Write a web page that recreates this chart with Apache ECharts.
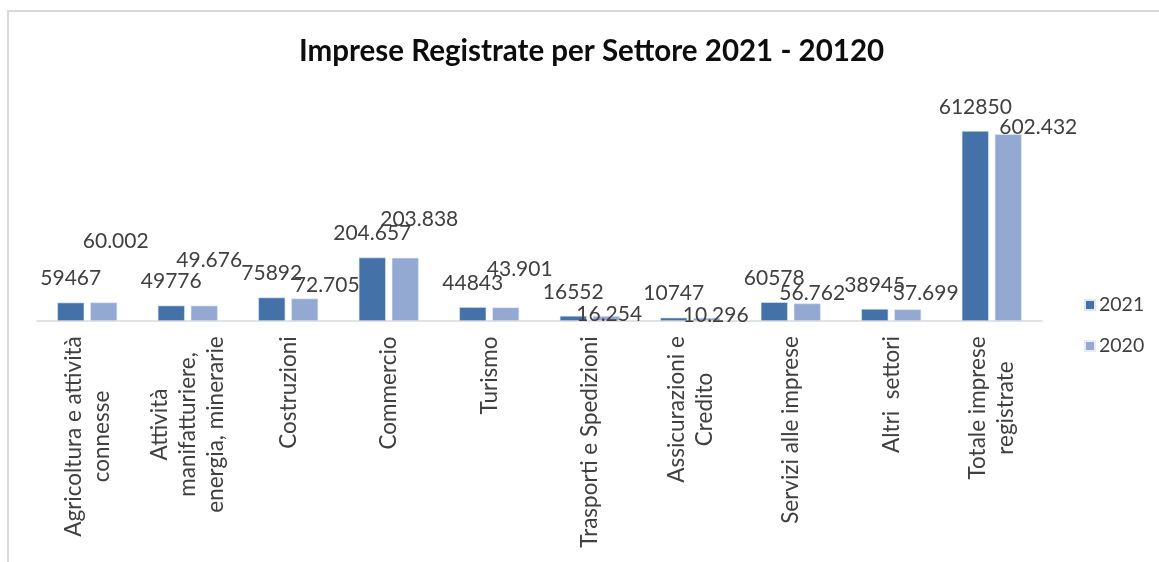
<!DOCTYPE html>
<html>
<head>
<meta charset="utf-8">
<script src="https://cdn.jsdelivr.net/npm/echarts@6/dist/echarts.min.js"></script>
<style>
html,body{margin:0;padding:0;background:#fff;}
#chart{width:1159px;height:562px;}
</style>
</head>
<body>
<div id="chart"></div>
<script>
// ---- data ----
const titleText = 'Imprese Registrate per Settore 2021 - 20120';
const categories = [
  'Agricoltura e attività\nconnesse',
  'Attività\nmanifatturiere,\nenergia, minerarie',
  'Costruzioni',
  'Commercio',
  'Turismo',
  'Trasporti e Spedizioni',
  'Assicurazioni e\nCredito',
  'Servizi alle imprese',
  'Altri  settori',
  'Totale imprese\nregistrate'
];
const seriesNames = ['2021', '2020'];
const values2021 = [59467, 49776, 75892, 204657, 44843, 16552, 10747, 60578, 38945, 612850];
const values2020 = [60002, 49676, 72705, 203838, 43901, 16254, 10296, 56762, 37699, 602432];
// 2021 labels written with thousands separator in the original
const dotted2021 = ['Commercio'];

// ---- styling ----
const FONT = 'Lato';
const TEXT = '#404040';
const C2021 = '#4472a8';
const C2020 = '#94a9d2';
// manual label nudges for the 2020 labels (as placed in the original)
const nudge2020 = [[12,-37],[5,-21],[22,11],[14,-15],[14,-14],[3,22],[9,21],[5,14],[18,8],[30,17]];

function dotFmt(v){ return String(v).replace(/\B(?=(\d{3})+(?!\d))/g, '.'); }

const AX_FS = 22.5;
const ctx = document.createElement('canvas').getContext('2d');
ctx.font = AX_FS + 'px ' + FONT;
const rich = {};
categories.forEach((c, i) => {
  const w = Math.ceil(Math.max(...c.split('\n').map(l => ctx.measureText(l).width)));
  rich['c' + i] = {width: w, align: 'center', fontSize: AX_FS, fontFamily: FONT, color: TEXT, lineHeight: 28};
});

const chart = echarts.init(document.getElementById('chart'), null, {renderer: 'canvas'});
chart.setOption({
  animation: false,
  backgroundColor: '#fff',
  title: {
    text: titleText,
    left: 294, top: 31,
    textStyle: {fontFamily: FONT, fontWeight: 'bold', fontSize: 29.5, color: '#0d0d0d'}
  },
  graphic: [{
    type: 'rect', silent: true,
    shape: {x: 8, y: 11, width: 1200, height: 600},
    style: {fill: 'none', stroke: '#d9d9d9', lineWidth: 2}
  }],
  legend: {
    orient: 'vertical', left: 1079, top: 290,
    itemWidth: 10, itemHeight: 10, icon: 'rect', itemGap: 21,
    textStyle: {fontFamily: FONT, fontSize: 19.5, color: TEXT, padding: [0, 0, 0, -1]},
    data: seriesNames
  },
  grid: {left: 37, right: 117, top: 104, bottom: 241, containLabel: false},
  xAxis: {
    type: 'category', data: categories,
    axisLine: {lineStyle: {color: '#d9d9d9', width: 1.5}},
    axisTick: {show: false},
    axisLabel: {
      interval: 0, rotate: 90, margin: 15,
      formatter: (v, idx) => v.split('\n').map(l => '{c' + idx + '|' + l + '}').join('\n'),
      rich: rich
    }
  },
  yAxis: {type: 'value', min: 0, max: 700000, show: false, splitLine: {show: false}},
  series: [
    {
      name: seriesNames[0], type: 'bar', data: values2021,
      barWidth: 27, barGap: '22%',
      itemStyle: {color: C2021, borderColor: '#dfe6f2', borderWidth: 0.6},
      label: {
        show: true, position: 'top', distance: 13.5,
        fontFamily: FONT, fontSize: 21, color: TEXT,
        formatter: p => dotted2021.includes(categories[p.dataIndex]) ? dotFmt(p.value) : String(p.value)
      }
    },
    {
      name: seriesNames[1], type: 'bar',
      data: values2020.map((v, i) => ({value: v, label: {offset: nudge2020[i]}})),
      barWidth: 27,
      itemStyle: {color: C2020, borderColor: '#e6ebf5', borderWidth: 0.6},
      label: {
        show: true, position: 'top', distance: 13.5,
        fontFamily: FONT, fontSize: 21, color: TEXT,
        formatter: p => dotFmt(p.value)
      }
    }
  ]
});
</script>
</body>
</html>
